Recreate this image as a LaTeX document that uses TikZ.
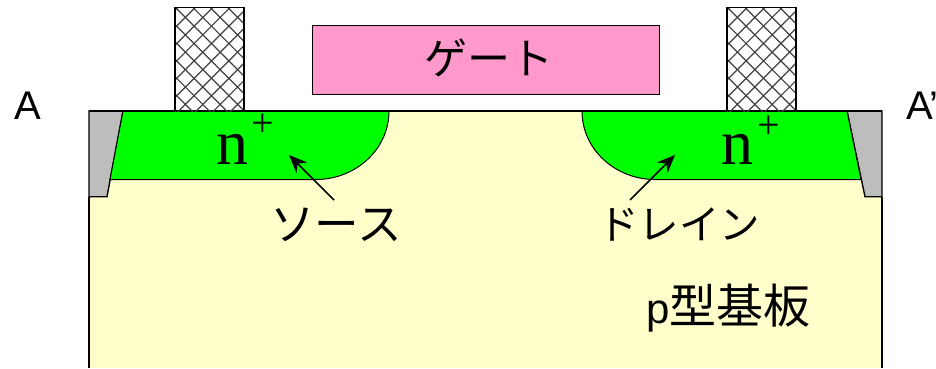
\documentclass[tikz,border=0pt]{standalone}
\usepackage{fontspec}
\setmainfont{Liberation Sans}
\newfontfamily\cjk{Noto Sans CJK JP}
\newfontfamily\serifn{Liberation Serif}
\usetikzlibrary{arrows.meta}
\definecolor{subst}{HTML}{FFFFCC}
\definecolor{gatec}{HTML}{FF99CC}
\definecolor{greenc}{HTML}{00FF00}
\definecolor{grayc}{HTML}{BDBDBD}
\tikzset{
  outl/.style={draw=black,line width=1.4pt,line join=miter},
  jp/.style={inner sep=0pt,font=\cjk\fontsize{43}{43}\selectfont},
  en/.style={inner sep=0pt,font=\fontsize{40}{40}\selectfont},
  nn/.style={inner sep=0pt,font=\serifn\fontsize{64}{64}\selectfont},
  pl/.style={inner sep=0pt,font=\serifn\fontsize{40}{40}\selectfont},
  callout/.style={draw=black,line width=1.6pt,-{Stealth[length=18pt,width=15pt]},shorten >=0pt},
  hatchl/.style={draw=black!75,line width=1.2pt}
}
\begin{document}
\begin{tikzpicture}[x=1pt,y=-1pt]
\useasboundingbox[clip] (0,0) rectangle (936,368);
% substrate
\path[fill=subst] (89,111) rectangle (882,368);
% oxide
\path[outl,fill=grayc] (89,111) -- (123,111) -- (107,196.7) -- (89,196.7) -- cycle;
\path[outl,fill=grayc] (847,111) -- (882,111) -- (882,196.7) -- (865,196.7) -- cycle;
% n+ regions
\path[outl,line width=1pt,fill=greenc] (123,111) -- (389,111) .. controls (389,150) and (355,179.5) .. (316,179.5) -- (110,179.5) -- cycle;
\path[outl,line width=1pt,fill=greenc] (847,111) -- (582,111) .. controls (582,150) and (616,179.5) .. (655,179.5) -- (861,179.5) -- cycle;
\draw[outl] (89,196.7) -- (89,368) (882,196.7) -- (882,368);
\draw[outl] (89,111) -- (882,111);
% contacts
\begin{scope}
\clip (175,7.5) rectangle (244,111);
\foreach \k in {-10,...,16}{
  \draw[hatchl] ({168+\k*17.4},0) -- ++(130,130);
  \draw[hatchl] ({168+\k*17.4},0) -- ++(-130,130);
}
\end{scope}
\begin{scope}
\clip (727,7.5) rectangle (796,111);
\foreach \k in {-10,...,16}{
  \draw[hatchl] ({720+\k*17.4},0) -- ++(130,130);
  \draw[hatchl] ({720+\k*17.4},0) -- ++(-130,130);
}
\end{scope}
\draw[outl] (175,111) -- (175,7.5) -- (244,7.5) -- (244,111);
\draw[outl] (727,111) -- (727,7.5) -- (796,7.5) -- (796,111);
% gate
\node[outl,fill=gatec,minimum width=347pt,minimum height=68.5pt,inner sep=0pt,anchor=north west] (gate) at (312,25) {};
\node[jp] (gatelabel) at (489,58) {ゲート};
% labels
\node[en,anchor=base west] (a) at (14,119) {A};
\node[en,anchor=base west] (ap) at (906,119) {A'};
\node[nn,anchor=base] (n1) at (232,164) {n};
\node[pl,anchor=center] (p1) at (262.5,125) {+};
\node[nn,anchor=base] (n2) at (737,164) {n};
\node[pl,anchor=center] (p2) at (768.5,127) {+};
\node[jp,font=\cjk\fontsize{44.5}{44.5}\selectfont] (src) at (336,225) {ソース};
\node[jp,font=\cjk\fontsize{40.5}{40.5}\selectfont] (drn) at (679,225) {ドレイン};
\node[jp,anchor=base west,font=\cjk\fontsize{47}{47}\selectfont] (sub) at (646,323) {{\fontspec{Liberation Sans}\fontsize{42}{42}\selectfont p}型基板};
% arrows
\coordinate (s1) at (334,200);
\coordinate (s2) at (289,155);
\coordinate (d1) at (630,200);
\coordinate (d2) at (675,155);
\draw[callout] (s1) -- (s2);
\draw[callout] (d1) -- (d2);
\end{tikzpicture}
\end{document}
